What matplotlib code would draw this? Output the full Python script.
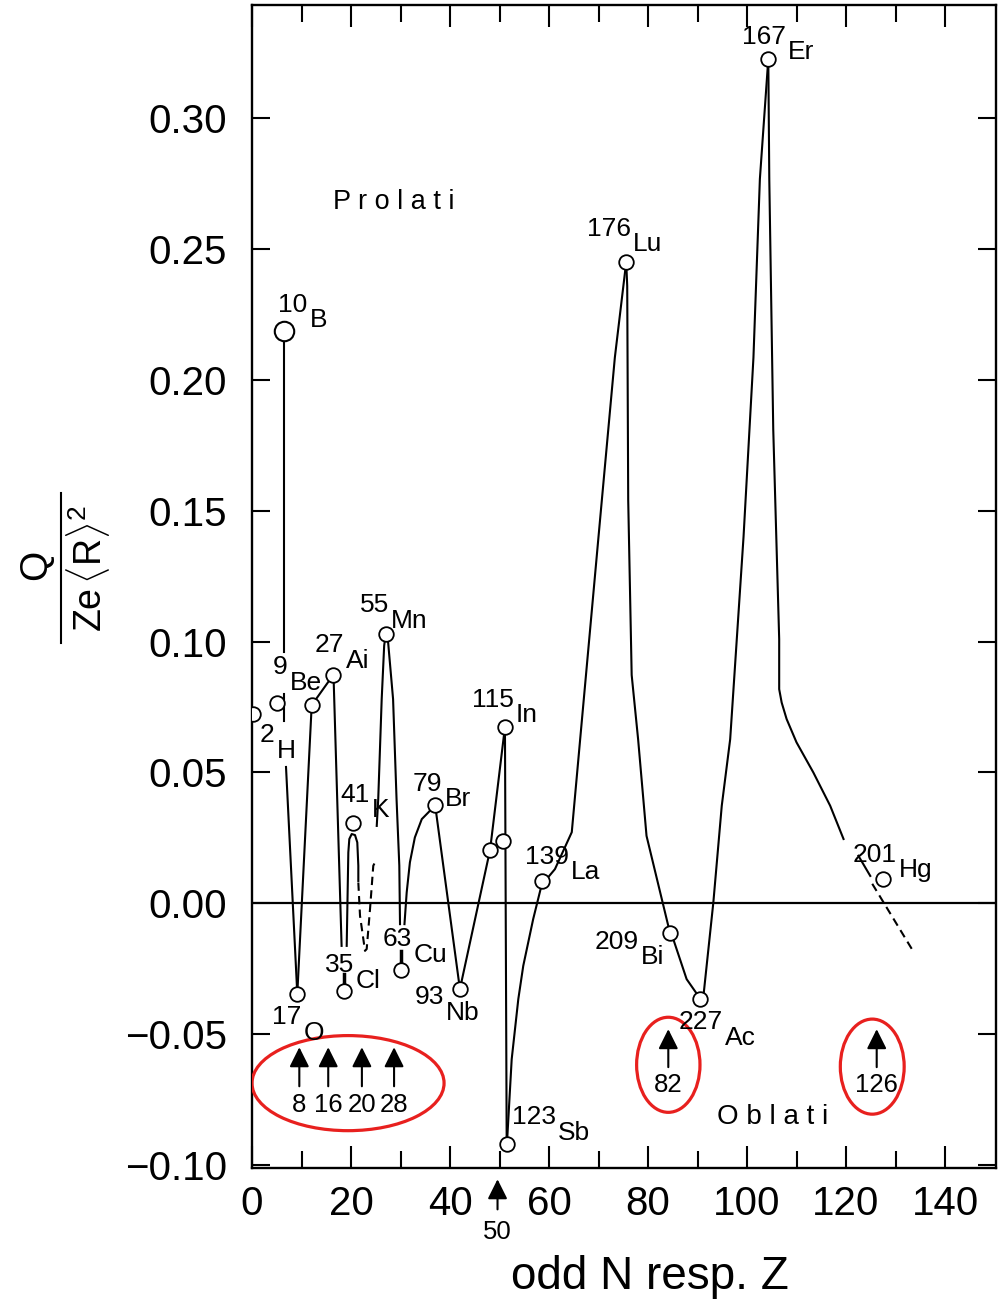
import matplotlib.pyplot as plt
from matplotlib.patches import Ellipse
from matplotlib.lines import Line2D

plt.rcParams['font.family'] = ['Liberation Sans', 'DejaVu Sans']
plt.rcParams['mathtext.fontset'] = 'custom'
plt.rcParams['mathtext.rm'] = 'Liberation Sans'
plt.rcParams['mathtext.it'] = 'Liberation Sans'

# -----------------------
# measured nuclei (open circles)
# -----------------------
pt_x = [0.26, 4.99, 12.06, 16.4, 9.15, 18.6, 20.5, 27.0, 30.2, 37.0, 42.0,
        48.1, 50.8, 51.1, 51.5, 58.5, 75.6, 104.3, 84.4, 90.6, 127.5]
pt_y = [0.0723, 0.0765, 0.0757, 0.0872, -0.0346, -0.0336, 0.0309, 0.1028,
        -0.0254, 0.0375, -0.0327, 0.0205, 0.0239, 0.0674, -0.0919, 0.0086,
        0.2449, 0.3224, -0.0111, -0.0365, 0.0093]
b10_x, b10_y = 6.53, 0.2186

# -----------------------
# connecting curves (solid)
# -----------------------
curves = [
    ([6.45, 6.45], [0.2148, 0.0959]),
    ([6.45, 6.45], [0.0800, 0.0696]),
    ([6.87, 9.15], [0.0521, -0.0346]),
    ([9.15, 12.06, 16.4], [-0.0346, 0.0757, 0.0872]),
    ([16.5, 18.1], [0.085, -0.0162]),
    ([19.13, 19.46, 19.66, 20.14, 20.81, 21.27, 21.48, 21.48],
     [-0.0162, 0.0195, 0.0246, 0.0265, 0.0261, 0.0233, 0.0144, 0.0086]),
    ([25.2, 25.5, 26.2, 26.7, 27.0], [0.0296, 0.0398, 0.078, 0.0984, 0.1028]),
    ([27.0, 27.5, 28.5, 29.2, 29.76, 29.9],
     [0.1028, 0.0997, 0.078, 0.0399, 0.0144, -0.0079]),
    ([30.8, 31.25, 31.9, 32.9, 34.3, 35.6, 37.0],
     [-0.0079, 0.0042, 0.0157, 0.0252, 0.0322, 0.0347, 0.0375]),
    ([37.0, 42.0, 48.1, 51.1], [0.0375, -0.0327, 0.0205, 0.0674]),
    ([51.1, 51.45], [0.0674, -0.0919]),
    ([51.5, 52.46, 53.8, 54.8, 56.8, 58.5, 61.2, 64.6, 66.3, 70.0, 73.3, 75.6],
     [-0.0919, -0.0595, -0.0365, -0.0238, -0.006, 0.0070, 0.0131, 0.0272,
      0.0628, 0.140, 0.2084, 0.2449]),
    ([75.6, 75.8, 76.0, 76.7, 78.0, 79.7, 84.1, 84.4, 85.1, 87.8, 90.6],
     [0.2449, 0.2357, 0.154, 0.0872, 0.0627, 0.0258, -0.0086, -0.0111,
      -0.0136, -0.0289, -0.0365]),
    ([90.6, 91.2, 93.2, 94.9, 96.6, 99.3, 101.3, 102.6, 104.3],
     [-0.0365, -0.0353, 0.0004, 0.0373, 0.0627, 0.140, 0.2084, 0.2766, 0.3224]),
    ([104.3, 104.5, 105.3, 106.5, 106.5, 107.0, 108.0, 110.0, 113.4, 116.8, 119.5],
     [0.3224, 0.2766, 0.181, 0.1009, 0.0818, 0.0767, 0.0704, 0.0615, 0.050,
      0.0373, 0.0246]),
    ([122.5, 124.9], [0.0182, 0.0105]),
]
stubs = [([18.6, 18.6], [-0.0269, -0.0315]), ([30.2, 30.2], [-0.0181, -0.0225])]

# dashed extrapolations
dashed = [
    ([21.48, 21.82, 22.83, 23.17, 23.84, 24.5, 24.85],
     [0.008, -0.0047, -0.0181, -0.0174, -0.0022, 0.0144, 0.0157]),
    ([125.3, 133.3], [0.0075, -0.0174]),
]

# -----------------------
# nuclide labels
# -----------------------
lab_num = ["10", "167", "176", "55", "27", "9", "2", "41", "79", "115", "139",
           "63", "35", "93", "17", "123", "209", "227", "201"]
lab_el = ["B", "Er", "Lu", "Mn", "Ai", "Be", "H", "K", "Br", "In", "La",
          "Cu", "Cl", "Nb", "O", "Sb", "Bi", "Ac", "Hg"]
lab_x = [5.32, 98.9, 67.6, 21.8, 12.7, 4.24, 1.6, 17.8, 32.5, 44.4, 55.2,
         26.3, 14.7, 32.9, 4.04, 52.5, 69.3, 86.1, 121.4]
lab_y = [0.2258, 0.3281, 0.2548, 0.1112, 0.0959, 0.0875, 0.0616, 0.0387,
         0.0429, 0.075, 0.0151, -0.0163, -0.0263, -0.0385, -0.0461, -0.0843,
         -0.0174, -0.048, 0.0158]

# shell closures (magic numbers)
magic_in = ["8", "16", "20", "28"]
magic_in_x = [9.56, 15.4, 22.2, 28.7]
magic_out = ["82", "126"]
magic_out_x = [84.1, 126.2]

fig = plt.figure(figsize=(10.02, 13.0), dpi=100)
ax = fig.add_axes([252 / 1002, 1 - 1168 / 1300, (996 - 252) / 1002, (1168 - 5) / 1300])

for cx, cy in curves:
    ax.plot(cx, cy, color="black", lw=1.5, zorder=2)
for cx, cy in stubs:
    ax.plot(cx, cy, color="black", lw=2.5, zorder=2)
for cx, cy in dashed:
    ax.plot(cx, cy, color="black", lw=1.5, ls=(0, (4, 2.5)), zorder=2)

ax.axhline(0, color="black", lw=1.6, zorder=1)

ax.plot(pt_x, pt_y, "o", ms=10.5, mfc="white", mec="black", mew=1.3, zorder=5)
ax.plot([b10_x], [b10_y], "o", ms=14, mfc="white", mec="black", mew=1.5, zorder=5)

for x, y, n, e in zip(lab_x, lab_y, lab_num, lab_el):
    t = ax.text(x, y, n, fontsize=19, ha="left", va="baseline", zorder=6)
    ax.annotate(e, xy=(1, 0), xycoords=t, xytext=(1.5, -7.5),
                textcoords="offset points", fontsize=19, ha="left", va="baseline", zorder=6)

ax.text(16.4, 0.2651, "P r o l a t i", fontsize=19.5, ha="left", va="baseline")
ax.text(93.9, -0.0843, "O b l a t i", fontsize=20, ha="left", va="baseline")

arrow_kw = dict(arrowstyle="-|>,head_length=0.6,head_width=0.3", color="black",
                lw=1.5, mutation_scale=20, shrinkA=0, shrinkB=0)
for lbl, x in zip(magic_in, magic_in_x):
    ax.annotate("", xy=(x, -0.0549), xytext=(x, -0.0698), arrowprops=arrow_kw)
    ax.text(x, -0.0797, lbl, fontsize=18.5, ha="center", va="baseline")
for lbl, x in zip(magic_out, magic_out_x):
    ax.annotate("", xy=(x, -0.048), xytext=(x, -0.0625), arrowprops=arrow_kw)
    ax.text(x, -0.072, lbl, fontsize=18.5, ha="center", va="baseline")
ax.annotate("", xy=(49.6, -0.1053), xytext=(49.6, -0.1168), arrowprops=arrow_kw,
            annotation_clip=False)
ax.text(49.6, -0.1282, "50", fontsize=18.5, ha="center", va="baseline", clip_on=False)

red = "#e8201e"
ax.add_patch(Ellipse((19.4, -0.0686), 38.8, 0.0363, fill=False, ec=red, lw=2.3, zorder=4))
ax.add_patch(Ellipse((84.1, -0.0616), 12.8, 0.0363, fill=False, ec=red, lw=2.3, zorder=4))
ax.add_patch(Ellipse((125.3, -0.0623), 12.9, 0.0363, fill=False, ec=red, lw=2.3, zorder=4))

ax.set_xlim(0, 150.3)
ax.set_ylim(-0.101, 0.343)
ax.set_xticks(range(0, 141, 20))
ax.set_xticks(range(10, 150, 20), minor=True)
ax.set_yticks([-0.10, -0.05, 0.0, 0.05, 0.10, 0.15, 0.20, 0.25, 0.30])
ax.set_yticklabels(["\u22120.10", "\u22120.05", "0.00", "0.05", "0.10", "0.15",
                    "0.20", "0.25", "0.30"])
ax.tick_params(which="both", direction="in", top=True, right=True, width=1.5,
               labelsize=29)
ax.tick_params(axis="x", which="major", length=16, pad=12)
ax.tick_params(axis="x", which="minor", length=12)
ax.tick_params(axis="y", length=13, pad=18)
for s in ax.spines.values():
    s.set_linewidth(1.7)

# y label as a stacked fraction
fig.text(36 / 1002, 1 - 565 / 1300, "Q", rotation=90, fontsize=28, ha="center", va="center")
fig.add_artist(Line2D([61 / 1002, 61 / 1002], [1 - 493 / 1300, 1 - 643 / 1300],
                      color="black", lw=1.5))
fig.text(88 / 1002, 1 - 568 / 1300, r"Ze$\,\langle$R$\rangle^2$", rotation=90,
         fontsize=27, ha="center", va="center")

fig.text(650 / 1002, 1 - 1289 / 1300, "odd N resp. Z", fontsize=33, ha="center", va="baseline")

fig.savefig("out.png", dpi=100)
